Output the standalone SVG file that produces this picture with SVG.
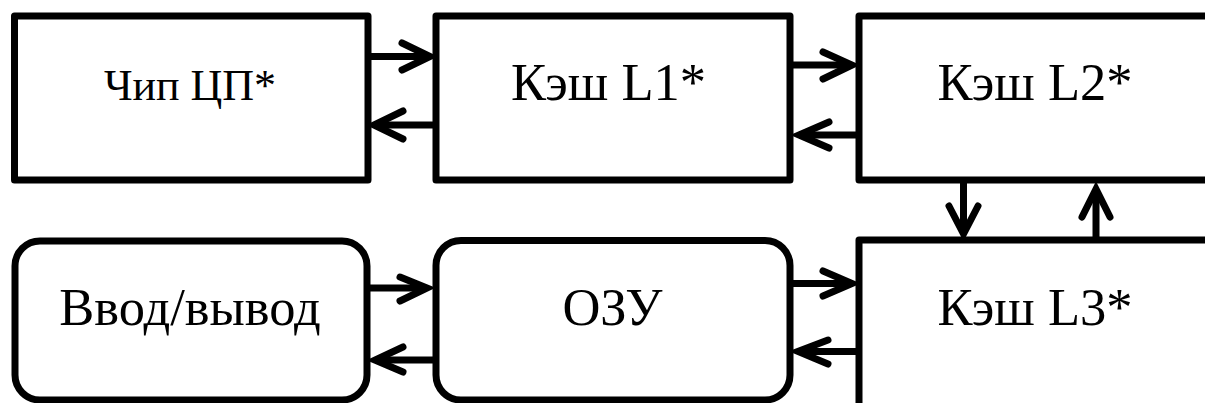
<svg xmlns="http://www.w3.org/2000/svg" width="1205" height="403" viewBox="0 0 1205 403">
<style>
.box{fill:#fff;stroke:#000;stroke-width:7;stroke-linejoin:round}
.lbl{font-family:"Liberation Serif","Times New Roman",serif;font-size:52.5px;fill:#000;text-anchor:middle}
.ln{fill:none;stroke:#000;stroke-width:7;stroke-linecap:butt}
.hd{fill:none;stroke:#000;stroke-width:7;stroke-linecap:round;stroke-linejoin:miter}
</style>
<rect x="0" y="0" width="1205" height="403" fill="#fff"/>
<g id="cpu"><rect class="box" x="14.5" y="16" width="353.5" height="164"/><text class="lbl" x="190" y="100" style="font-size:44px">Чип ЦП*</text></g>
<g id="l1"><rect class="box" x="436" y="16" width="354" height="164"/><text class="lbl" x="608.5" y="100">Кэш L1*</text></g>
<g id="l2"><rect class="box" x="859" y="16" width="400" height="164"/><text class="lbl" x="1035" y="100">Кэш L2*</text></g>
<g id="io"><rect class="box" x="15" y="241" width="352" height="159" rx="25"/><text class="lbl" x="190" y="325">Ввод/вывод</text></g>
<g id="ram"><rect class="box" x="436" y="240.5" width="354" height="159.5" rx="25"/><text class="lbl" x="612.5" y="325">ОЗУ</text></g>
<g id="l3"><rect class="box" x="859" y="240" width="400" height="200"/><text class="lbl" x="1035" y="325">Кэш L3*</text></g>
<g id="connectors">
<line class="ln" x1="371" y1="56.5" x2="428" y2="56.5"/><polyline class="hd" points="402,43 430,56.5 402,70"/>
<line class="ln" x1="433" y1="125" x2="376" y2="125"/><polyline class="hd" points="403,111 374,125 403,139"/>
<line class="ln" x1="793" y1="65" x2="851" y2="65"/><polyline class="hd" points="823,52 852,65 823,79"/>
<line class="ln" x1="856" y1="135" x2="800" y2="135"/><polyline class="hd" points="829,122 799,135 829,148"/>
<line class="ln" x1="963.5" y1="183" x2="963.5" y2="232"/><polyline class="hd" points="949,206 963.5,234 978,206"/>
<line class="ln" x1="1096" y1="237" x2="1096" y2="190"/><polyline class="hd" points="1082,217 1096,189 1110,217"/>
<line class="ln" x1="370" y1="288" x2="425" y2="288"/><polyline class="hd" points="400,277 427,288 400,301"/>
<line class="ln" x1="433" y1="360" x2="377" y2="360"/><polyline class="hd" points="403,347 375,360 403,372"/>
<line class="ln" x1="793" y1="283.5" x2="850" y2="283.5"/><polyline class="hd" points="823,271 852,283.5 823,296"/>
<line class="ln" x1="856" y1="351.5" x2="800" y2="351.5"/><polyline class="hd" points="828,340 798,351.5 828,364"/>
</g>
</svg>
